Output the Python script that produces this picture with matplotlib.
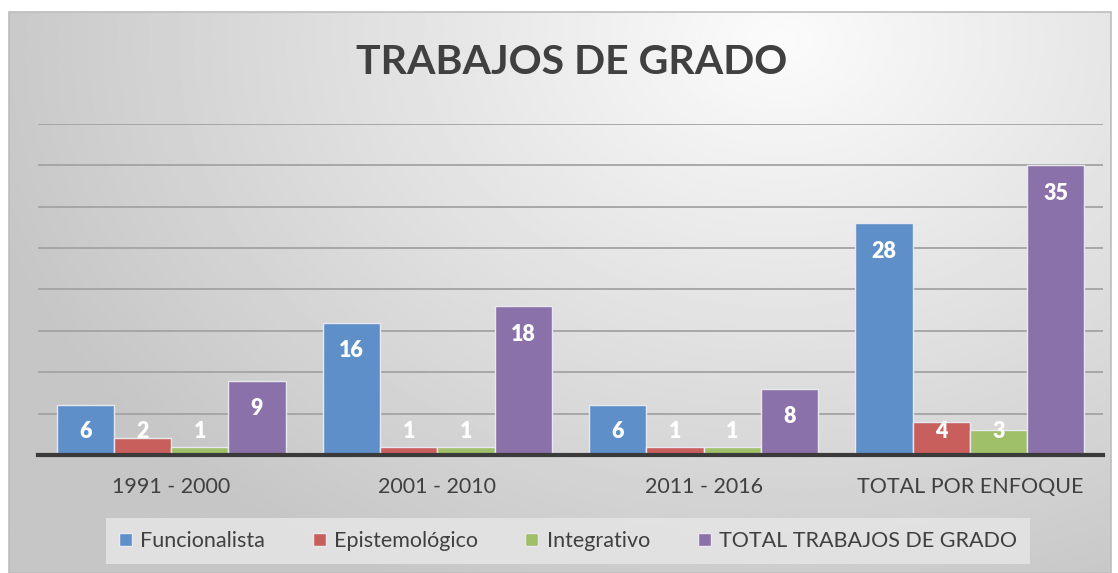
import numpy as np
import matplotlib.pyplot as plt
from matplotlib.patches import Rectangle

# data
categories = ["1991 - 2000", "2001 - 2010", "2011 - 2016", "TOTAL POR ENFOQUE"]
series_names = ["Funcionalista", "Epistemológico", "Integrativo", "TOTAL TRABAJOS DE GRADO"]
funcionalista = [6, 16, 6, 28]
epistemologico = [2, 1, 1, 4]
integrativo = [1, 1, 1, 3]
total = [9, 18, 8, 35]
colors = ["#5f8fc8", "#c95f5c", "#9fbf68", "#8b71a9"]

W, H = 1118, 573
fig = plt.figure(figsize=(W / 100, H / 100), dpi=100)
font = "Lato"

# background gradient (chart area)
bg = fig.add_axes([0, 0, 1, 1], zorder=-10)
bg.set_axis_off()
yy, xx = np.mgrid[0:1:300j, 0:1:600j]
d = np.sqrt(((xx - 0.70) / 0.75) ** 2 + ((yy - 0.05) / 1.1) ** 2)
d = np.clip(d, 0, 1)
shade = 0.985 - 0.21 * d
x0, y0, x1, y1 = 9 / W, 0, 1111 / W, 1 - 12 / H
bg.imshow(shade, cmap="gray", vmin=0, vmax=1, extent=[x0, x1, y0, y1],
          origin="upper", aspect="auto", interpolation="bilinear")
bg.add_patch(Rectangle((x0, y0), x1 - x0, y1 - y0, fill=False,
                       edgecolor="#bdbdbd", lw=1.2))
bg.set_xlim(0, 1)
bg.set_ylim(0, 1)

ax = fig.add_axes([38 / W, 1 - 455 / H, (1103 - 38) / W, (455 - 124) / H])
ax.patch.set_alpha(0)

data = [funcionalista, epistemologico, integrativo, total]
x = np.arange(len(categories))
bw = 0.215
for i, (vals, name, c) in enumerate(zip(data, series_names, colors)):
    pos = x + (i - 1.5) * bw
    ax.bar(pos, vals, width=bw, color=c, edgecolor="#e8e8f0", linewidth=1.0,
           label=name, zorder=3)
    for px, v in zip(pos, vals):
        ly = max(v - 3.4, 2.9)
        ax.text(px, ly, str(v), ha="center", va="center", color="white",
                fontsize=15.5, fontweight="heavy", family=font, zorder=4)

ax.set_ylim(0, 40)
ax.set_xlim(-0.5, 3.5)
ax.set_yticks(np.arange(0, 41, 5))
ax.yaxis.grid(True, color="#a3a3a3", linewidth=1.3, zorder=1)
ax.tick_params(axis="y", left=False, labelleft=False)
ax.tick_params(axis="x", bottom=False, pad=12)
ax.set_xticks(x)
ax.set_xticklabels(categories, fontsize=15.5, color="#404040", family=font)
for s in ["top", "right", "left"]:
    ax.spines[s].set_visible(False)
ax.spines["bottom"].set_color("#3a3a3a")
ax.spines["bottom"].set_linewidth(3)
ax.spines["bottom"].set_zorder(5)

fig.text(0.511, 1 - 62 / H, "TRABAJOS DE GRADO", ha="center", va="center",
         fontsize=29.5, fontweight="bold", color="#404040", family=font)

leg = fig.legend(loc="center", bbox_to_anchor=(568 / W, 1 - 541 / H), ncol=4,
                 frameon=True, fancybox=False, handlelength=0.6, handleheight=0.6,
                 columnspacing=2.2, handletextpad=0.4, borderpad=0.6,
                 prop={"family": font, "size": 15.5})
leg.get_frame().set_facecolor("#e4e4e4")
leg.get_frame().set_edgecolor("none")
leg.get_frame().set_alpha(0.9)
for t in leg.get_texts():
    t.set_color("#404040")

fig.savefig("out.png", dpi=100)
